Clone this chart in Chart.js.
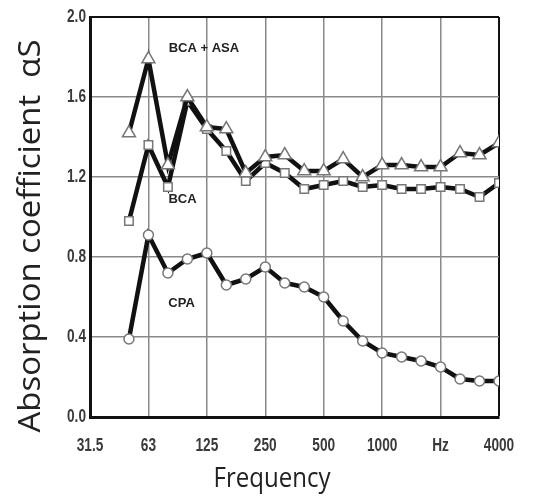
<!DOCTYPE html>
<html>
<head>
<meta charset="utf-8">
<script src="https://cdn.jsdelivr.net/npm/chart.js@4.4.0/dist/chart.umd.min.js"></script>
<style>
  html, body { margin: 0; padding: 0; background: #fff; }
</style>
</head>
<body>
<canvas id="absorptionChart" width="551" height="503"></canvas>
<script>
// 1/3-octave bands spanning the axis (31.5 Hz .. 4000 Hz)
const bands = [31.5, 40, 50, 63, 80, 100, 125, 160, 200, 250, 315, 400, 500, 630, 800, 1000, 1250, 1600, 2000, 2500, 3150, 4000];
// bands that actually carry measurements
const measuredBands = [50, 63, 80, 100, 125, 160, 200, 250, 315, 400, 500, 630, 800, 1000, 1250, 1600, 2000, 2500, 3150, 4000];
// labels shown at every octave gridline
const tickLabels = ['31.5', '63', '125', '250', '500', '1000', 'Hz', '4000'];

const bcaAsa = [1.42, 1.79, 1.26, 1.60, 1.45, 1.44, 1.22, 1.30, 1.31, 1.23, 1.23, 1.29, 1.20, 1.26, 1.26, 1.25, 1.25, 1.32, 1.31, 1.37];
const bca    = [0.98, 1.36, 1.15, 1.58, 1.44, 1.33, 1.18, 1.27, 1.22, 1.14, 1.16, 1.18, 1.15, 1.16, 1.14, 1.14, 1.15, 1.14, 1.10, 1.17];
const cpa    = [0.39, 0.91, 0.72, 0.79, 0.82, 0.66, 0.69, 0.75, 0.67, 0.65, 0.60, 0.48, 0.38, 0.32, 0.30, 0.28, 0.25, 0.19, 0.18, 0.18];

// curve labels: [text, band position, value]
const curveLabels = [
    ['BCA + ASA', 5.85, 1.845],
    ['BCA', 4.75, 1.09],
    ['CPA', 4.7, 0.57]
];

const toPoints = (vals) => vals.map((v, i) => ({ x: bands.indexOf(measuredBands[i]), y: v }));

function series(label, vals, style, radius) {
    return {
        label: label,
        data: toPoints(vals),
        borderColor: '#111',
        borderWidth: 4.5,
        pointStyle: style,
        pointRadius: radius,
        pointBackgroundColor: '#fff',
        pointBorderColor: '#777',
        pointBorderWidth: 1.5,
        tension: 0
    };
}

// draw text with a horizontal squeeze factor (narrow look of the original)
function squeezed(c, text, x, y, sx, angle) {
    c.save();
    c.translate(x, y);
    c.rotate(angle || 0);
    c.scale(sx, 1);
    c.fillText(text, 0, 0);
    c.restore();
}

// draw text stretched to a given length
function fitText(c, text, x, y, len, angle) {
    squeezed(c, text, x, y, len / c.measureText(text).width, angle);
}

// Tick labels, axis titles and curve labels
const textPlugin = {
    id: 'textPlugin',
    afterDatasetsDraw(chart) {
        const c = chart.ctx;
        const sx = chart.scales.x, sy = chart.scales.y;
        c.save();
        c.fillStyle = '#222';
        c.font = 'bold 13px "Liberation Sans", Arial, sans-serif';
        c.textAlign = 'center';
        c.textBaseline = 'middle';
        curveLabels.forEach(([t, x, y]) => c.fillText(t, sx.getPixelForValue(x), sy.getPixelForValue(y)));
        c.restore();
    },
    afterDraw(chart) {
        const c = chart.ctx;
        const sx = chart.scales.x, sy = chart.scales.y;
        c.save();
        c.fillStyle = '#3a3a3a';
        c.font = 'bold 19px "Liberation Sans", Arial, sans-serif';
        c.textBaseline = 'middle';
        c.textAlign = 'center';
        sx.ticks.forEach((t) => squeezed(c, tickLabels[t.value / 3], sx.getPixelForValue(t.value), 446, 0.72));
        c.textAlign = 'right';
        sy.ticks.forEach((t) => squeezed(c, t.value.toFixed(1), 86, sy.getPixelForValue(t.value), 0.72));

        c.fillStyle = '#222';
        c.textAlign = 'center';
        c.textBaseline = 'alphabetic';
        c.font = '28px "Open Sans", sans-serif';
        fitText(c, 'Frequency', 272, 487, 117, 0);
        c.font = '31px "Open Sans", sans-serif';
        fitText(c, 'Absorption coefficient  \u03b1S', 40, 236, 393, -Math.PI / 2);
        c.restore();
    }
};

new Chart(document.getElementById('absorptionChart'), {
    type: 'line',
    data: {
        datasets: [
            series('BCA + ASA', bcaAsa, 'triangle', 7.5),
            series('BCA', bca, 'rect', 6),
            series('CPA', cpa, 'circle', 5)
        ]
    },
    options: {
        responsive: false,
        animation: false,
        devicePixelRatio: 1,
        layout: { padding: { top: 17, right: 52, left: 0, bottom: 0 } },
        plugins: { legend: { display: false }, tooltip: { enabled: false } },
        scales: {
            x: {
                type: 'linear',
                min: 0,
                max: bands.length - 1,
                afterFit: (s) => { s.height = 86; },
                border: { color: '#111', width: 3 },
                grid: {
                    drawTicks: false,
                    color: (ctx) => ctx.tick && ctx.tick.value === bands.length - 1 ? '#111' : '#8a8a8a',
                    lineWidth: (ctx) => ctx.tick && ctx.tick.value === bands.length - 1 ? 2 : 1.5
                },
                ticks: { stepSize: 3, display: false }
            },
            y: {
                min: 0,
                max: 2,
                afterFit: (s) => { s.width = 90; },
                border: { color: '#111', width: 3 },
                grid: {
                    drawTicks: false,
                    color: (ctx) => ctx.tick && Math.abs(ctx.tick.value - 2) < 1e-6 ? '#111' : '#8a8a8a',
                    lineWidth: (ctx) => ctx.tick && Math.abs(ctx.tick.value - 2) < 1e-6 ? 2 : 1.5
                },
                ticks: { stepSize: 0.4, display: false }
            }
        }
    },
    plugins: [textPlugin]
});
</script>
</body>
</html>
